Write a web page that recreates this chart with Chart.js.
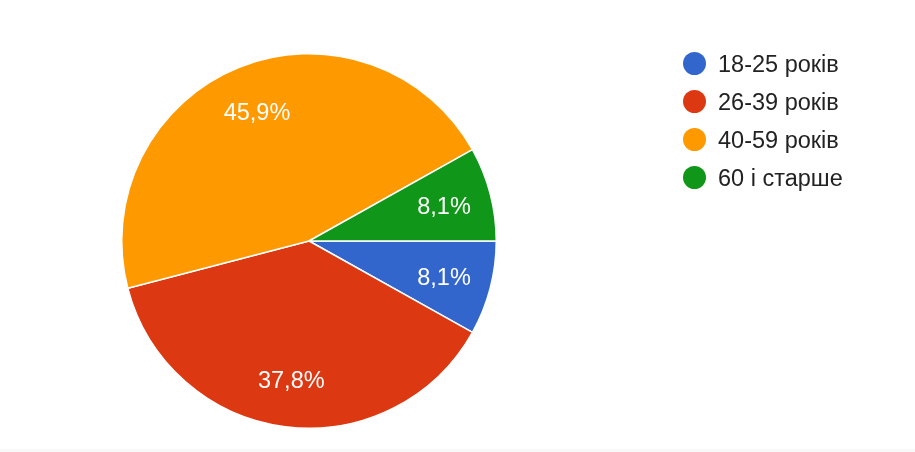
<!DOCTYPE html>
<html>
<head>
<meta charset="utf-8">
<script src="https://cdn.jsdelivr.net/npm/chart.js@4"></script>
<style>
  html, body { margin: 0; padding: 0; background: #fff; }
  #wrap { position: relative; width: 915px; height: 452px; overflow: hidden; }
  #wrap canvas { position: absolute; left: 0; top: 0; }
  #legend { position: absolute; left: 683px; top: 52px; list-style: none; margin: 0; padding: 0;
            font-family: "Liberation Sans", Arial, sans-serif; font-size: 23.5px; color: #222; }
  #legend li { height: 38px; line-height: 24px; display: flex; align-items: flex-start; }
  #legend .dot { width: 23px; height: 23px; border-radius: 50%; margin-right: 12px; flex: none; }
  #strip { position: absolute; left: 0; bottom: 0; width: 915px; height: 3px; background: #f8f8f8; }
</style>
</head>
<body>
<div id="wrap">
  <canvas id="chart" width="915" height="452"></canvas>
  <ul id="legend"></ul>
  <div id="strip"></div>
</div>
<script>
// categories and answer counts (37 responses)
const labels = ['18-25 років', '26-39 років', '40-59 років', '60 і старше'];
const counts = [3, 14, 17, 3];
const colors = ['#3366cc', '#dc3912', '#ff9900', '#109618'];

// legend on the right, built from the same arrays
const legend = document.getElementById('legend');
labels.forEach(function (name, i) {
    let li = document.createElement('li');
    li.innerHTML = '<span class="dot" style="background:' + colors[i] + '"></span>' + name;
    legend.appendChild(li);
});

// white percentage text inside each slice
const sliceText = {
    id: 'sliceText',
    afterDatasetsDraw(chart) {
        const ctx = chart.ctx;
        const total = counts.reduce((a, b) => a + b, 0);
        ctx.save();
        ctx.fillStyle = '#fff';
        ctx.font = '23.5px "Liberation Sans", Arial, sans-serif';
        ctx.textAlign = 'center';
        ctx.textBaseline = 'middle';
        chart.getDatasetMeta(0).data.forEach(function (arc, i) {
            const mid = (arc.startAngle + arc.endAngle) / 2;
            const r = arc.outerRadius * 0.745;
            const pct = (counts[i] / total * 100).toFixed(1).replace('.', ',') + '%';
            ctx.fillText(pct, arc.x + Math.cos(mid) * r, arc.y + Math.sin(mid) * r + 2);
        });
        ctx.restore();
    }
};

new Chart(document.getElementById('chart'), {
    type: 'pie',
    data: {
        labels: labels,
        datasets: [{
            data: counts,
            backgroundColor: colors,
            borderColor: '#fff',
            borderWidth: 1.5
        }]
    },
    options: {
        responsive: false,
        animation: false,
        rotation: 90,
        layout: { padding: { left: 121, right: 418, top: 53, bottom: 23 } },
        plugins: {
            legend: { display: false },
            tooltip: { enabled: false }
        }
    },
    plugins: [sliceText]
});
</script>
</body>
</html>
